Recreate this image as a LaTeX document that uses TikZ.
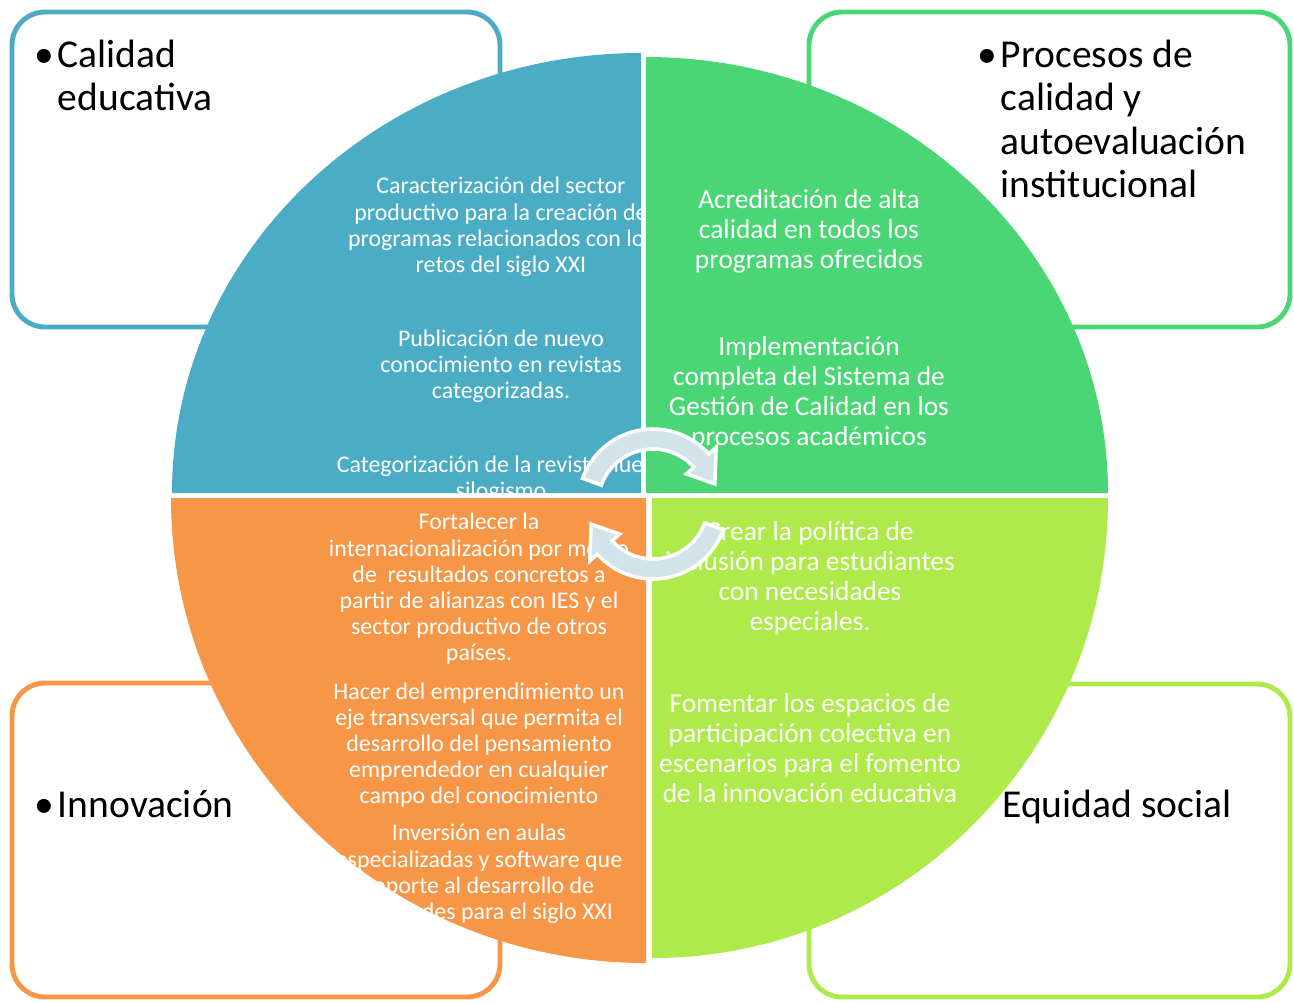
\documentclass[tikz,border=0pt]{standalone}
\usepackage{fontspec}
\setmainfont{Carlito}
\definecolor{quadblue}{HTML}{4BACC6}
\definecolor{quadgreen}{HTML}{4AD675}
\definecolor{quadorange}{HTML}{F79646}
\definecolor{quadlime}{HTML}{AEEA4A}
\definecolor{arrowtint}{HTML}{D2E3EA}
\newcommand{\bul}{\textbullet\hspace{2.2pt}}
\tikzset{
  framebox/.style={line width=2.8pt, rounded corners=0.66cm, fill=white},
  heading/.style={anchor=base west, inner sep=0pt, font=\fontsize{22.5}{24.8}\selectfont},
  smalltext/.style={text=white, align=center, inner sep=0pt, font=\fontsize{13.6}{14.9}\selectfont},
  largetext/.style={text=white, align=center, inner sep=0pt, font=\fontsize{15.6}{17.1}\selectfont},
  cyclearrow/.style={fill=arrowtint, draw=white, line width=2pt, line join=miter}
}
\begin{document}
\begin{tikzpicture}[x=0.02cm, y=0.02cm]
    \useasboundingbox (0,0) rectangle (1294,-1002);

    % the four frames behind the circle
    \draw[framebox, draw=quadblue] (12,-12) rectangle (500,-327);
    \draw[framebox, draw=quadgreen] (809,-12) rectangle (1290,-327);
    \draw[framebox, draw=quadorange] (12,-683) rectangle (500,-997);
    \draw[framebox, draw=quadlime] (809,-684) rectangle (1290,-997);

    % the titles
    \node[heading] (calidad) at (34,-67) {\bul\begin{tabular}[t]{@{}l@{}}Calidad\\educativa\end{tabular}};
    \node[heading] (procesos) at (977,-67) {\bul\begin{tabular}[t]{@{}l@{}}Procesos de\\calidad y\\autoevaluación\\institucional\end{tabular}};
    \node[heading] (innovacion) at (34,-817) {\bul Innovación};
    \node[heading] (equidad) at (1002,-817) {Equidad social};

    % blue quarter (texts are cut by its edge)
    \begin{scope}
        \clip (641,-493) -- (172,-493) arc[start angle=180, end angle=90, x radius=469, y radius=440] -- cycle;
        \fill[quadblue] (0,0) rectangle (1294,-1002);
        \node[smalltext] (caract) at (501,-227) {Caracterización del sector\\productivo para la creación de\\programas relacionados con los\\retos del siglo XXI};
        \node[smalltext] (public) at (501,-366) {Publicación de nuevo\\conocimiento en revistas\\categorizadas.};
        \node[smalltext] (revista) at (501,-479) {Categorización de la revista nueva\\silogismo};
    \end{scope}

    % green quarter
    \begin{scope}
        \clip (646,-493) -- (646,-57) arc[start angle=90, end angle=0, x radius=462, y radius=436] -- cycle;
        \fill[quadgreen] (0,0) rectangle (1294,-1002);
        \node[largetext] (acredit) at (809,-231) {Acreditación de alta\\calidad en todos los\\programas ofrecidos};
        \node[largetext] (implem) at (809,-393) {Implementación\\completa del Sistema de\\Gestión de Calidad en los\\procesos académicos};
    \end{scope}

    % lime quarter
    \begin{scope}
        \clip (652,-498) -- (1108,-498) arc[start angle=0, end angle=-90, x radius=456, y radius=460] -- cycle;
        \fill[quadlime] (0,0) rectangle (1294,-1002);
        \node[largetext] (crear) at (810,-578) {Crear la política de\\inclusión para estudiantes\\con necesidades\\especiales.};
        \node[largetext] (fomentar) at (810,-748) {Fomentar los espacios de\\participación colectiva en\\escenarios para el fomento\\de la innovación educativa};
    \end{scope}

    % orange quarter
    \begin{scope}
        \clip (646,-498) -- (646,-963) arc[start angle=270, end angle=180, x radius=475, y radius=465] -- cycle;
        \fill[quadorange] (0,0) rectangle (1294,-1002);
        \node[smalltext] (fortal) at (479,-589) {Fortalecer la\\internacionalización por medio\\de~ resultados concretos a\\partir de alianzas con IES y el\\sector productivo de otros\\países.};
        \node[smalltext] (hacer) at (479,-745) {Hacer del emprendimiento un\\eje transversal que permita el\\desarrollo del pensamiento\\emprendedor en cualquier\\campo del conocimiento};
        \node[smalltext] (inversion) at (479,-874) {Inversión en aulas\\especializadas y software que\\soporte al desarrollo de\\habilidades para el siglo XXI};
    \end{scope}

    % the two turning arrows in the middle
    \coordinate (hub) at (653,-504);
    \path[cyclearrow] ([shift={(160:75)}]hub) arc[start angle=160, end angle=42, radius=75]
        -- ([shift={(42:85)}]hub) -- ([shift={(18:65)}]hub) -- ([shift={(42:45)}]hub)
        -- ([shift={(42:55)}]hub) arc[start angle=42, end angle=160, radius=55] -- cycle;
    \path[cyclearrow] ([shift={(340:75)}]hub) arc[start angle=340, end angle=222, radius=75]
        -- ([shift={(222:85)}]hub) -- ([shift={(198:65)}]hub) -- ([shift={(222:45)}]hub)
        -- ([shift={(222:55)}]hub) arc[start angle=222, end angle=340, radius=55] -- cycle;
\end{tikzpicture}
\end{document}
